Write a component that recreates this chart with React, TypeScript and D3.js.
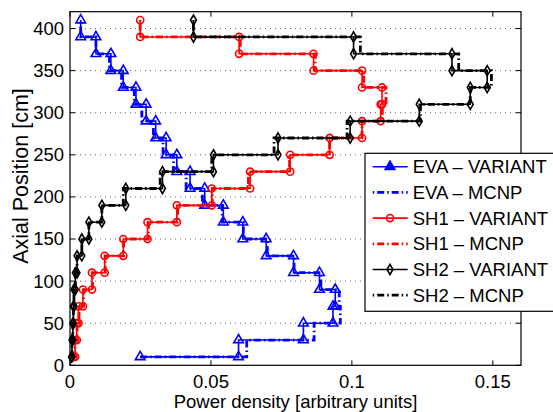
import React, { useRef, useEffect } from "react";
import * as d3 from "d3";

// Axial positions [cm]
const axialPositions = [10, 30, 50, 70, 90, 110, 130, 150, 170, 190, 210, 230, 250, 270, 290, 310, 330, 350, 370, 390, 410];

// Power density [arbitrary units]
const evaVariant = [0.0249, 0.0598, 0.0828, 0.0933, 0.0941, 0.0885, 0.0793, 0.0696, 0.0613, 0.0544, 0.0478, 0.0426, 0.0379, 0.0341, 0.0304, 0.027, 0.0234, 0.0189, 0.0145, 0.0092, 0.0038];
const evaMcnp = [0.0249, 0.0627, 0.0866, 0.0959, 0.0955, 0.089, 0.0795, 0.07, 0.0615, 0.054, 0.047, 0.0412, 0.0367, 0.033, 0.0296, 0.0255, 0.0228, 0.0183, 0.014, 0.0092, 0.0038];
const sh1Variant = [0.0012, 0.0018, 0.0024, 0.003, 0.0046, 0.0078, 0.0123, 0.0189, 0.0275, 0.0379, 0.0503, 0.0639, 0.0781, 0.0921, 0.1036, 0.1102, 0.1107, 0.1036, 0.0864, 0.06, 0.0249];
const sh1Mcnp = [0.0012, 0.0018, 0.0025, 0.0032, 0.0048, 0.008, 0.0125, 0.019, 0.0278, 0.0382, 0.0505, 0.0633, 0.0779, 0.0921, 0.1036, 0.1108, 0.1121, 0.1042, 0.087, 0.0604, 0.0249];
const sh2Variant = [0.0005, 0.0007, 0.001, 0.0012, 0.0014, 0.0019, 0.0025, 0.0042, 0.0067, 0.0113, 0.0198, 0.0328, 0.0509, 0.0738, 0.0994, 0.1239, 0.142, 0.148, 0.1355, 0.1006, 0.0438];
const sh2Mcnp = [0.0005, 0.0007, 0.001, 0.0012, 0.0014, 0.0019, 0.0025, 0.0042, 0.0067, 0.0113, 0.0189, 0.032, 0.0503, 0.0724, 0.0983, 0.1243, 0.142, 0.1495, 0.1379, 0.103, 0.0438];

const xTicks = [0, 0.05, 0.1, 0.15];
const xTickLabels = ["0", "0.05", "0.1", "0.15"];
const yTicks = [0, 50, 100, 150, 200, 250, 300, 350, 400];
const yTickLabels = ["0", "50", "100", "150", "200", "250", "300", "350", "400"];

const seriesNames = ["EVA – VARIANT", "EVA – MCNP", "SH1 – VARIANT", "SH1 – MCNP", "SH2 – VARIANT", "SH2 – MCNP"];
const xLabel = "Power density [arbitrary units]";
const yLabel = "Axial Position [cm]";

const FONT = "'Liberation Sans', Arial, Helvetica, sans-serif";

export default function App() {
  const ref = useRef<SVGSVGElement>(null);

  useEffect(() => {
    const svg = d3.select(ref.current);
    svg.selectAll("*").remove();

    const L = 70, R = 521, T = 11.7, B = 365.3;
    const x = d3.scaleLinear().domain([0, 0.16]).range([L, R]);
    const y = d3.scaleLinear().domain([0, 420]).range([B, T]);

    svg.append("rect").attr("x", 0).attr("y", 0).attr("width", 553).attr("height", 412).attr("fill", "white");

    // grid
    svg.append("g").selectAll("line").data(yTicks.filter((t) => t > 0)).join("line")
      .attr("x1", L).attr("x2", R).attr("y1", (d) => y(d)).attr("y2", (d) => y(d))
      .attr("stroke", "#666").attr("stroke-width", 1).attr("stroke-dasharray", "1 4");

    const series = [
      { vals: evaVariant, color: "#0000ff", mcnp: false, sym: d3.symbolTriangle, size: 40 },
      { vals: evaMcnp, color: "#0000ff", mcnp: true, sym: null, size: 0 },
      { vals: sh1Variant, color: "#ff0000", mcnp: false, sym: d3.symbolCircle, size: 40 },
      { vals: sh1Mcnp, color: "#ff0000", mcnp: true, sym: null, size: 0 },
      { vals: sh2Variant, color: "#000000", mcnp: false, sym: d3.symbolDiamond, size: 30 },
      { vals: sh2Mcnp, color: "#000000", mcnp: true, sym: null, size: 0 },
    ];

    const stepPts = (xs: number[], zs: number[]) => {
      const pts: [number, number][] = [[xs[0], zs[0]]];
      for (let i = 1; i < xs.length; i++) {
        pts.push([xs[i], zs[i - 1]]);
        pts.push([xs[i], zs[i]]);
      }
      return pts;
    };

    const line = d3.line<[number, number]>().x((d) => x(d[0])).y((d) => y(d[1]));

    const gData = svg.append("g");
    series.forEach((s) => {
      const pts = stepPts(s.vals, axialPositions);
      gData.append("path").attr("d", line(pts)!).attr("fill", "none")
        .attr("stroke", s.color)
        .attr("stroke-width", s.mcnp ? 2.8 : 1.6)
        .attr("stroke-dasharray", s.mcnp ? "7 3 1.5 3" : null);
      if (s.sym) {
        const sym = d3.symbol().type(s.sym).size(s.size);
        gData.append("g").selectAll("path").data(pts).join("path")
          .attr("d", sym()!)
          .attr("transform", (d) => `translate(${x(d[0])},${y(d[1])})`)
          .attr("fill", "none").attr("stroke", s.color).attr("stroke-width", 1.6);
      }
    });

    // frame and ticks
    svg.append("rect").attr("x", L).attr("y", T).attr("width", R - L).attr("height", B - T)
      .attr("fill", "none").attr("stroke", "black").attr("stroke-width", 1.2);
    const tk = 5;
    const gt = svg.append("g").attr("stroke", "black").attr("stroke-width", 1);
    xTicks.forEach((t) => {
      gt.append("line").attr("x1", x(t)).attr("x2", x(t)).attr("y1", B).attr("y2", B - tk);
      gt.append("line").attr("x1", x(t)).attr("x2", x(t)).attr("y1", T).attr("y2", T + tk);
    });
    yTicks.forEach((t) => {
      gt.append("line").attr("x1", L).attr("x2", L + tk).attr("y1", y(t)).attr("y2", y(t));
      gt.append("line").attr("x1", R).attr("x2", R - tk).attr("y1", y(t)).attr("y2", y(t));
    });

    const fs = 18.5;
    svg.append("g").selectAll("text").data(xTicks).join("text")
      .attr("x", (d) => x(d)).attr("y", 388).attr("text-anchor", "middle")
      .attr("font-family", FONT).attr("font-size", fs).text((d, i) => xTickLabels[i]);
    svg.append("g").selectAll("text").data(yTicks).join("text")
      .attr("x", 64).attr("y", (d) => y(d)).attr("dy", "0.35em").attr("text-anchor", "end")
      .attr("font-family", FONT).attr("font-size", fs).text((d, i) => yTickLabels[i]);

    svg.append("text").attr("x", (L + R) / 2).attr("y", 408).attr("text-anchor", "middle")
      .attr("font-family", FONT).attr("font-size", fs).text(xLabel);
    svg.append("text").attr("transform", `translate(27.5,176) rotate(-90)`)
      .attr("text-anchor", "middle").attr("font-family", FONT).attr("font-size", 21.5).text(yLabel);

    // legend
    const lg = svg.append("g");
    lg.append("rect").attr("x", 365).attr("y", 153.3).attr("width", 200).attr("height", 158)
      .attr("fill", "white").attr("stroke", "black").attr("stroke-width", 1.2);
    series.forEach((s, i) => {
      const cy = 166.7 + i * 25.7;
      lg.append("line").attr("x1", 372.7).attr("x2", 407.7).attr("y1", cy).attr("y2", cy)
        .attr("stroke", s.color).attr("stroke-width", s.mcnp ? 2.8 : 1.6)
        .attr("stroke-dasharray", s.mcnp ? "1.5 3 7 3" : null);
      if (s.sym) {
        lg.append("path").attr("d", d3.symbol().type(s.sym).size(s.size)()!)
          .attr("transform", `translate(390,${cy})`).attr("fill", s.sym === d3.symbolTriangle ? s.color : "none")
          .attr("stroke", s.color).attr("stroke-width", 1.6);
      }
      lg.append("text").attr("x", 412.7).attr("y", cy).attr("dy", "0.35em")
        .attr("font-family", FONT).attr("font-size", fs).text(seriesNames[i]);
    });
  }, []);

  return <svg ref={ref} width={553} height={412} style={{ position: "absolute", left: 0, top: 0 }} />;
}
